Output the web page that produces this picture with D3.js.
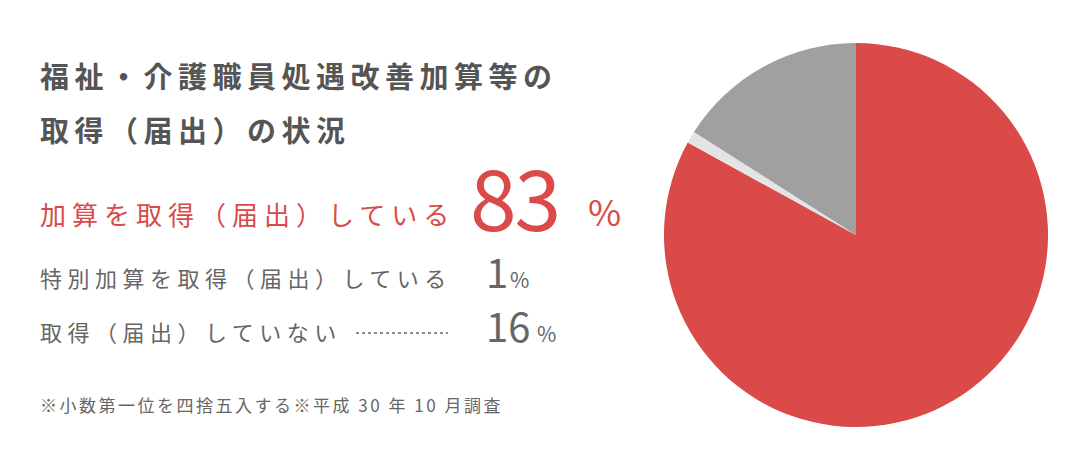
<!DOCTYPE html>
<html><head><meta charset="utf-8">
<script src="https://cdn.jsdelivr.net/npm/d3@7"></script>
<style>body{margin:0;background:#fff}text{font-family:"Noto Sans CJK JP",sans-serif}</style>
</head><body><svg id="c" width="1083" height="471"></svg>
<script>
const labels = ["加算を取得（届出）している","特別加算を取得（届出）している","取得（届出）していない"];
const values = [83, 1, 16];
const colors = ["#d94a49","#e4e4e4","#a0a0a0"];
const svg = d3.select("#c");
const pie = d3.pie().sort(null).value(d=>d)(values);
const arc = d3.arc().innerRadius(0).outerRadius(192);
svg.append("g").attr("transform","translate(856,235)").selectAll("path").data(pie).join("path")
  .attr("d",arc).attr("fill",(d,i)=>colors[i]);
function t(x,y,s,fill,txt,ls,fam,fw){return svg.append("text").attr("x",x).attr("y",y).attr("font-size",s).attr("fill",fill)
  .attr("letter-spacing",ls||0).attr("font-family",fam||null).attr("font-weight",fw||"normal").text(txt);}
t(40,88,29,"#555","福祉・介護職員処遇改善加算等の",5.5,null,"bold");
t(40,142,29,"#555","取得（届出）の状況",5.5,null,"bold");
t(40,225,26,colors[0],labels[0],6);
t(470,231,84,colors[0],values[0],-2,"Lato, sans-serif");
t(588,226,36,colors[0],"%",0,"Lato, sans-serif");
t(40,287,22,"#666",labels[1],5.5);
t(486,288,40,"#666",values[1],0,"Lato, sans-serif");
t(510,288,21,"#666","%",0,"Lato, sans-serif");
t(40,341,22,"#666",labels[2],5.5);
svg.append("line").attr("x1",356).attr("x2",448).attr("y1",333).attr("y2",333).attr("stroke","#666").attr("stroke-width",1.5).attr("stroke-dasharray","3,3");
t(486,342,40,"#666",values[2],0,"Lato, sans-serif");
t(537,342,21,"#666","%",0,"Lato, sans-serif");
t(40,412,17,"#666","※小数第一位を四捨五入する※平成 30 年 10 月調査",2.5);
</script></body></html>
